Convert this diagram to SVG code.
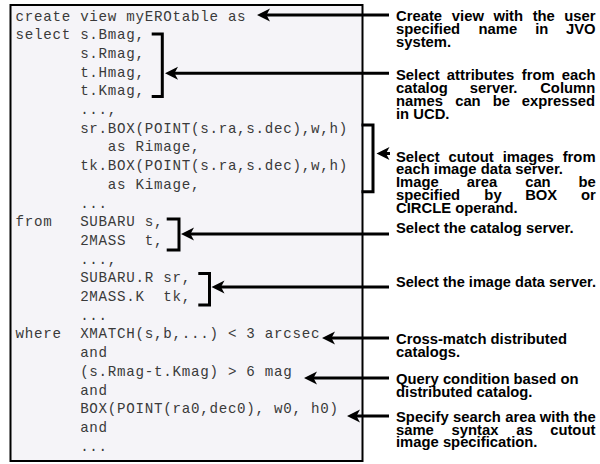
<svg xmlns="http://www.w3.org/2000/svg" width="600" height="464" viewBox="0 0 600 464">
<style>
.code{font-family:"Liberation Mono","Courier New",monospace;font-size:14.2px;letter-spacing:0.72px;fill:#3a3a3a;white-space:pre}
.note{font-family:"Liberation Sans",Arial,Helvetica,sans-serif;font-size:14.8px;font-weight:bold;fill:#000}
.conn{stroke:#000;stroke-width:3;fill:none}
.arrow{marker-end:url(#ah)}
.brk{stroke:#000;stroke-width:3;fill:none;stroke-linejoin:miter}
</style>
<defs>
<marker id="ah" markerUnits="userSpaceOnUse" markerWidth="14" markerHeight="14" viewBox="0 -7 14 14" refX="5" refY="0" orient="auto">
<path d="M0,-6.5 L13,0 L0,6.5 L3.5,0 Z" fill="#000"/>
</marker>
</defs>
<rect width="600" height="464" fill="#ffffff"/>
<g id="query">
<rect x="10.5" y="5" width="352" height="456" fill="#f5f4f8" stroke="#000" stroke-width="2"/>
<g xml:space="preserve">
<text class="code" x="15.5" y="20.5">create view myEROtable as</text>
<text class="code" x="15.5" y="39.2">select s.Bmag,</text>
<text class="code" x="15.5" y="57.9">       s.Rmag,</text>
<text class="code" x="15.5" y="76.6">       t.Hmag,</text>
<text class="code" x="15.5" y="95.3">       t.Kmag,</text>
<text class="code" x="15.5" y="114">       ...,</text>
<text class="code" x="15.5" y="132.7">       sr.BOX(POINT(s.ra,s.dec),w,h)</text>
<text class="code" x="15.5" y="151.4">          as Rimage,</text>
<text class="code" x="15.5" y="170.1">       tk.BOX(POINT(s.ra,s.dec),w,h)</text>
<text class="code" x="15.5" y="188.8">          as Kimage,</text>
<text class="code" x="15.5" y="207.5">       ...</text>
<text class="code" x="15.5" y="226.2">from   SUBARU s,</text>
<text class="code" x="15.5" y="244.9">       2MASS  t,</text>
<text class="code" x="15.5" y="263.6">       ...,</text>
<text class="code" x="15.5" y="282.3">       SUBARU.R sr,</text>
<text class="code" x="15.5" y="301">       2MASS.K  tk,</text>
<text class="code" x="15.5" y="319.7">       ...</text>
<text class="code" x="15.5" y="338.4">where  XMATCH(s,b,...) &lt; 3 arcsec</text>
<text class="code" x="15.5" y="357.1">       and</text>
<text class="code" x="15.5" y="375.8">       (s.Rmag-t.Kmag) &gt; 6 mag</text>
<text class="code" x="15.5" y="394.5">       and</text>
<text class="code" x="15.5" y="413.2">       BOX(POINT(ra0,dec0), w0, h0)</text>
<text class="code" x="15.5" y="431.9">       and</text>
<text class="code" x="15.5" y="450.6">       ...</text>
</g>
</g>

<g id="note-create">
<text class="note" y="21"><tspan x="396">Create</tspan><tspan x="451.84">view</tspan><tspan x="493.51">with</tspan><tspan x="532.67">the</tspan><tspan x="564.32">user</tspan></text>
<text class="note" y="34"><tspan x="396">specified</tspan><tspan x="478.51">name</tspan><tspan x="535.17">in</tspan><tspan x="565.99">JVO</tspan></text>
<text class="note" x="396" y="47">system.</text>
</g>

<g id="note-select">
<text class="note" y="80"><tspan x="396">Select</tspan><tspan x="446.84">attributes</tspan><tspan x="521.83">from</tspan><tspan x="561.81">each</tspan></text>
<text class="note" y="93"><tspan x="396">catalog</tspan><tspan x="469.75">server.</tspan><tspan x="540.18">Column</tspan></text>
<text class="note" y="106"><tspan x="396">names</tspan><tspan x="455.16">can</tspan><tspan x="492.65">be</tspan><tspan x="521.8">expressed</tspan></text>
<text class="note" x="396" y="118.5">in UCD.</text>
</g>

<g id="note-cutout">
<text class="note" y="161.5"><tspan x="396">Select</tspan><tspan x="448.51">cutout</tspan><tspan x="502.66">images</tspan><tspan x="562.67">from</tspan></text>
<text class="note" x="396" y="174.3">each image data server.</text>
<text class="note" y="187.1"><tspan x="396">Image</tspan><tspan x="466.83">area</tspan><tspan x="525.17">can</tspan><tspan x="578.5">be</tspan></text>
<text class="note" y="199.9"><tspan x="396">specified</tspan><tspan x="484.35">by</tspan><tspan x="525.18">BOX</tspan><tspan x="581.01">or</tspan></text>
<text class="note" x="396" y="212.7">CIRCLE operand.</text>
</g>

<g id="note-catalog">
<text class="note" x="396" y="232.5">Select the catalog server.</text>
</g>

<g id="note-image">
<text class="note" x="396" y="287" textLength="200" lengthAdjust="spacingAndGlyphs">Select the image data server.</text>
</g>

<g id="note-xmatch">
<text class="note" x="396" y="344">Cross-match distributed</text>
<text class="note" x="396" y="357">catalogs.</text>
</g>

<g id="note-query">
<text class="note" x="396" y="384">Query condition based on</text>
<text class="note" x="396" y="397">distributed catalog.</text>
</g>

<g id="note-area">
<text class="note" y="422"><tspan x="396">Specify</tspan><tspan x="453.09">search</tspan><tspan x="505.18">area</tspan><tspan x="539.77">with</tspan><tspan x="573.5">the</tspan></text>
<text class="note" y="434.5"><tspan x="396">same</tspan><tspan x="451.56">syntax</tspan><tspan x="516.28">as</tspan><tspan x="550.16">cutout</tspan></text>
<text class="note" x="396" y="447">image specification.</text>
</g>

<g id="connectors">
<path class="brk" d="M151.7,34 H162.3 V96.5 H151.7"/>
<path class="brk" d="M361.5,125 H373 V191.7 H361.5"/>
<path class="brk" d="M166.7,219 H179 V250 H166.7"/>
<path class="brk" d="M198.3,273.5 H209.5 V305 H198.3"/>
<line class="conn arrow" x1="389" y1="15" x2="265" y2="15"/>
<line class="conn arrow" x1="389" y1="73.3" x2="173" y2="73.3"/>
<line class="conn arrow" x1="390" y1="153.5" x2="384.5" y2="153.5"/>
<line class="conn arrow" x1="389" y1="234" x2="189" y2="234"/>
<line class="conn arrow" x1="389" y1="287" x2="219.5" y2="287"/>
<line class="conn arrow" x1="389" y1="338" x2="330" y2="338"/>
<line class="conn arrow" x1="389" y1="378" x2="312" y2="378"/>
<line class="conn arrow" x1="389" y1="416" x2="355" y2="416"/>
</g>
</svg>
